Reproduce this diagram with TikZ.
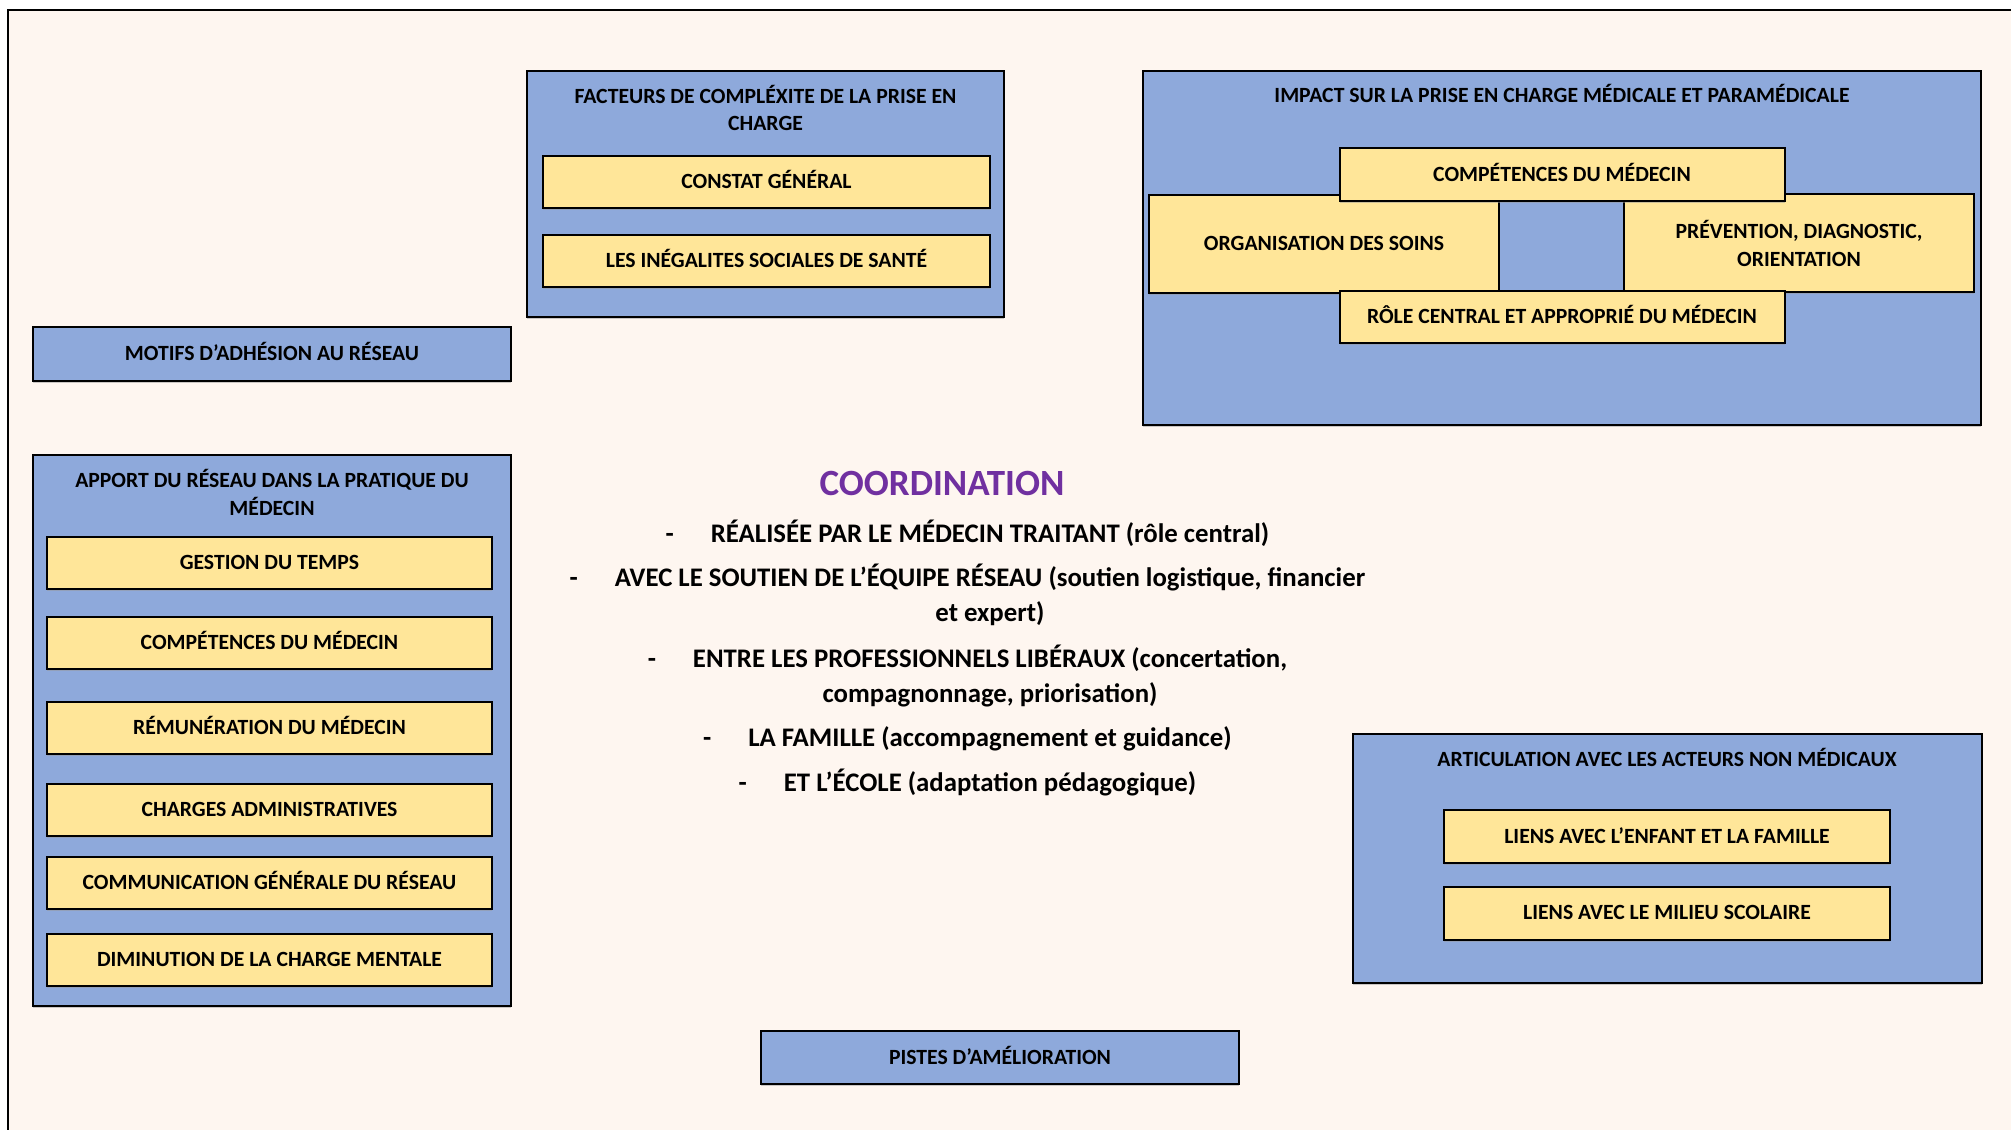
\documentclass[tikz,border=0pt]{standalone}
\usepackage{fontspec}
\setmainfont{Carlito}
\usetikzlibrary{shadows}
\definecolor{fondcreme}{RGB}{254,246,240}
\definecolor{bleucadre}{RGB}{142,169,219}
\definecolor{jaunecase}{RGB}{255,230,153}
\definecolor{violetcoord}{RGB}{112,48,160}
\begin{document}
\begin{tikzpicture}[x=1pt,y=-1pt]
% Styles
\tikzset{blue box/.style={rectangle,draw=black,line width=2pt,fill=bleucadre,inner sep=0pt,
    drop shadow={shadow xshift=0pt,shadow yshift=-2pt,fill=black!40}},
  yellow box/.style={rectangle,draw=black,line width=2pt,fill=jaunecase,inner sep=0pt,align=center,
    font=\fontsize{21.7}{28}\selectfont\bfseries,drop shadow={shadow xshift=0pt,shadow yshift=-2pt,fill=black!40}},
  one line/.style={text height=13.8pt,text depth=0pt,font=\fontsize{21.7}{28}\selectfont\bfseries},
  box title/.style={align=center,inner sep=0pt,font=\fontsize{21.7}{27.5}\selectfont\bfseries},
  coord item/.style={align=center,inner sep=0pt,anchor=base,font=\fontsize{26.8}{35}\selectfont\bfseries}}

% Fond et cadre
\useasboundingbox (0,0) rectangle (2011,1130);
\clip (0,0) rectangle (2011,1130);
\fill[white] (0,0) rectangle (2011,1130);
\draw[fill=fondcreme,line width=2.5pt] (8,10) rectangle (2050,1170);

% Facteurs de complexite
\node[blue box,minimum width=477pt,minimum height=246pt] (fact) at (765.5,194) {};
\node[box title] (fact-t) at (765.5,108) {FACTEURS DE COMPLÉXITE DE LA PRISE EN\\CHARGE};
\node[yellow box,one line,minimum width=447pt,minimum height=52pt] (constat) at (766.5,182) {CONSTAT GÉNÉRAL};
\node[yellow box,one line,minimum width=447pt,minimum height=52pt] (inegal) at (766.5,261) {LES INÉGALITES SOCIALES DE SANTÉ};

% Motifs
\node[blue box,one line,minimum width=478pt,minimum height=54pt] (motifs) at (272,354) {MOTIFS D’ADHÉSION AU RÉSEAU};

% Impact sur la prise en charge
\node[blue box,minimum width=838pt,minimum height=354pt] (impact) at (1562,248) {};
\node[box title] (impact-t) at (1562,93) {IMPACT SUR LA PRISE EN CHARGE MÉDICALE ET PARAMÉDICALE};
\node[yellow box,one line,minimum width=350pt,minimum height=98pt] (orga) at (1324,244) {ORGANISATION DES SOINS};
\node[yellow box,minimum width=350pt,minimum height=98pt] (prev) at (1799,243) {PRÉVENTION, DIAGNOSTIC,\\ORIENTATION};
\node[yellow box,one line,minimum width=445pt,minimum height=53pt] (compI) at (1562,174.5) {COMPÉTENCES DU MÉDECIN};
\node[yellow box,one line,minimum width=445pt,minimum height=52pt] (role) at (1562,317) {RÔLE CENTRAL ET APPROPRIÉ DU MÉDECIN};

% Apport du reseau
\node[blue box,minimum width=478pt,minimum height=551pt] (apport) at (272,730) {};
\node[box title] (apport-t) at (272,492.5) {APPORT DU RÉSEAU DANS LA PRATIQUE DU\\MÉDECIN};
\node[yellow box,one line,minimum width=445pt,minimum height=52pt] (gestion) at (269.5,563) {GESTION DU TEMPS};
\node[yellow box,one line,minimum width=445pt,minimum height=52pt] (compA) at (269.5,643) {COMPÉTENCES DU MÉDECIN};
\node[yellow box,one line,minimum width=445pt,minimum height=52pt] (remun) at (269.5,728) {RÉMUNÉRATION DU MÉDECIN};
\node[yellow box,one line,minimum width=445pt,minimum height=52pt] (charges) at (269.5,810) {CHARGES ADMINISTRATIVES};
\node[yellow box,one line,minimum width=445pt,minimum height=52pt] (comm) at (269.5,883) {COMMUNICATION GÉNÉRALE DU RÉSEAU};
\node[yellow box,one line,minimum width=445pt,minimum height=52pt] (dimin) at (269.5,960) {DIMINUTION DE LA CHARGE MENTALE};

% Coordination
\node[anchor=base,inner sep=0pt,text=violetcoord,font=\fontsize{37}{40}\selectfont\bfseries] (coord) at (942,495) {COORDINATION};
\node[coord item] (c1) at (990,542) {\llap{-\hspace{37pt}}RÉALISÉE PAR LE MÉDECIN TRAITANT (rôle central)};
\node[coord item] (c2) at (990,621.5) {\llap{-\hspace{37pt}}AVEC LE SOUTIEN DE L’ÉQUIPE RÉSEAU (soutien logistique, financier\\et expert)};
\node[coord item] (c3) at (990,702) {\llap{-\hspace{37pt}}ENTRE LES PROFESSIONNELS LIBÉRAUX (concertation,\\compagnonnage, priorisation)};
\node[coord item] (c4) at (990,746.5) {\llap{-\hspace{37pt}}LA FAMILLE (accompagnement et guidance)};
\node[coord item] (c5) at (990,791.5) {\llap{-\hspace{37pt}}ET L’ÉCOLE (adaptation pédagogique)};

% Articulation
\node[blue box,minimum width=629pt,minimum height=249pt] (artic) at (1667,858) {};
\node[box title] (artic-t) at (1667,757) {ARTICULATION AVEC LES ACTEURS NON MÉDICAUX};
\node[yellow box,one line,minimum width=446pt,minimum height=53pt] (enfant) at (1667,836.5) {LIENS AVEC L’ENFANT ET LA FAMILLE};
\node[yellow box,one line,minimum width=446pt,minimum height=53pt] (scol) at (1667,913) {LIENS AVEC LE MILIEU SCOLAIRE};

% Pistes
\node[blue box,one line,minimum width=478pt,minimum height=53pt] (pistes) at (1000,1057.5) {PISTES D’AMÉLIORATION};
\end{tikzpicture}
\end{document}
